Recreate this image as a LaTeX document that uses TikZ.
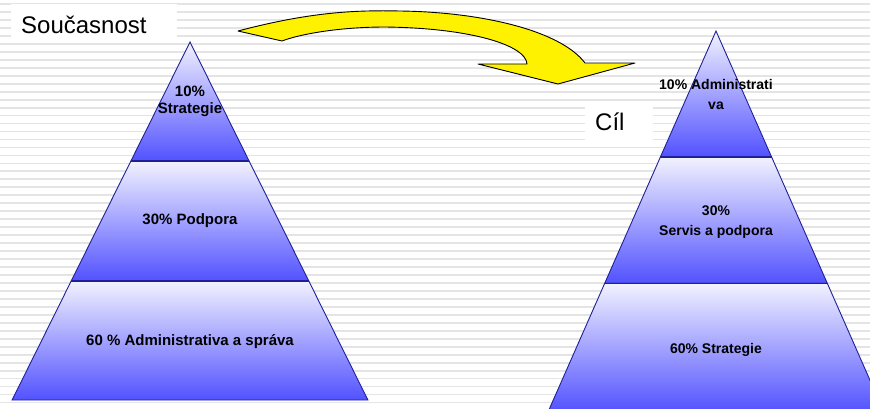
\documentclass[tikz,border=0pt]{standalone}
\usepackage{fontspec}
\setmainfont{Liberation Sans}
\usetikzlibrary{positioning}
\definecolor{tierlight}{RGB}{242,242,255}
\definecolor{tierdark}{RGB}{82,82,255}
\definecolor{tierline}{RGB}{32,32,150}
\definecolor{stripe}{RGB}{228,228,228}

\begin{document}
\begin{tikzpicture}[x=1pt, y=-1pt]
    \tikzstyle{tier} = [draw=tierline, line width=0.9pt, top color=tierlight, bottom color=tierdark]
    \tikzstyle{divider} = [draw=tierline, line width=1.6pt]
    \tikzstyle{caption} = [rectangle, fill=white, inner ysep=0pt, inner xsep=10pt, align=left, font=\fontsize{24}{28}\selectfont]
    \tikzstyle{share} = [font=\bfseries\fontsize{15}{16.7}\selectfont, align=center, inner sep=0pt]
    \tikzstyle{sharesmall} = [font=\bfseries\fontsize{14}{20}\selectfont, align=center, inner sep=0pt]
    \tikzstyle{shiftarrow} = [draw=black, line width=0.9pt, fill=yellow, line join=round]

    \useasboundingbox (0,0) rectangle (870,408);
    \clip (0,0) rectangle (870,408);

    % striped backdrop
    \foreach \k in {0,...,51}
        \draw[stripe, line width=1.8pt] (0,4+7.97*\k) -- (870,4+7.97*\k);

    \node[caption, text width=145.7pt, text height=29.3pt, text depth=4pt, anchor=base west] (now) at (11,33.3) {Současnost};
    \node[caption, text width=47.7pt, text height=27.2pt, text depth=11.2pt, anchor=base west] (goal) at (585,130.5) {Cíl};

    % left pyramid
    \path[tier] (190,42) -- (249.1,161) -- (130.9,161) -- cycle;
    \path[tier] (130.9,161) -- (249.1,161) -- (308.8,281) -- (71.2,281) -- cycle;
    \path[tier] (71.2,281) -- (308.8,281) -- (367.9,400) -- (12.1,400) -- cycle;
    \draw[divider] (130.9,161) -- (249.1,161);
    \draw[divider] (71.2,281) -- (308.8,281);

    % right pyramid
    \path[tier] (716,31) -- (771.6,157) -- (660.4,157) -- cycle;
    \path[tier] (660.4,157) -- (771.6,157) -- (827.3,283.3) -- (604.7,283.3) -- cycle;
    \path[tier] (604.7,283.3) -- (827.3,283.3) -- (884,412) -- (548,412) -- cycle;
    \draw[divider] (660.4,157) -- (771.6,157);
    \draw[divider] (604.7,283.3) -- (827.3,283.3);

    \node[share] (nowtop) at (190,101) {10\%\\Strategie};
    \node[share, anchor=base] (nowmid) at (190,224) {30\% Podpora};
    \node[share, anchor=base] (nowbase) at (190,345) {60 \% Administrativa a správa};

    \node[sharesmall] (goaltop) at (716,94) {10\% Administrati\\va};
    \node[sharesmall] (goalmid) at (716,222) {30\%\\Servis a podpora};
    \node[sharesmall, anchor=base] (goalbase) at (716,353) {60\% Strategie};

    % curved block arrow from left to right
    \filldraw[shiftarrow] (238,31) .. controls (310,12) and (355,10) .. (400,11)
        .. controls (480,12) and (560,30) .. (585,63)
        -- (635,63) -- (558,84) -- (478,64) -- (527,64)
        .. controls (526,45) and (470,28) .. (385,27)
        .. controls (340,27) and (300,34) .. (282,41) -- cycle;
\end{tikzpicture}
\end{document}
